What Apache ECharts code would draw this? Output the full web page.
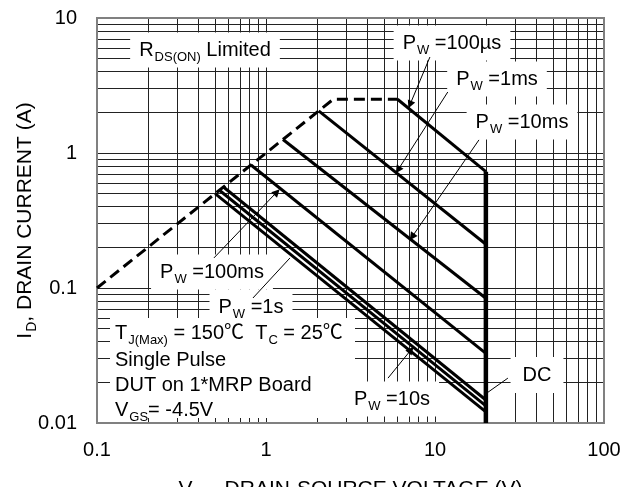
<!DOCTYPE html>
<html>
<head>
<meta charset="utf-8">
<script src="https://cdn.jsdelivr.net/npm/echarts@6/dist/echarts.min.js"></script>
<style>
  html, body { margin: 0; padding: 0; background: #fff; }
  #chart { width: 639px; height: 487px; }
</style>
</head>
<body>
<div id="chart"></div>
<script>
// axis decades and the 1..9 steps used for the log grid
const xDecades = [0.1, 1, 10]
const yDecades = [0.01, 0.1, 1]
const gridSteps = [1, 2, 3, 4, 5, 6, 7, 8, 9]

// safe operating area curves, points are [VDS (V), ID (A)]
const rdsLimit = [[0.1, 0.1], [2.5, 2.5], [6, 2.5]]
const pw100us = [[6, 2.5], [20, 0.727]]
const pw1ms = [[2.05, 2.05], [20, 0.211]]
const pw10ms = [[1.26, 1.26], [20, 0.084]]
const pw100ms = [[0.815, 0.815], [20, 0.0328]]
const pw1s = [[0.56, 0.56], [20, 0.0148]]
const pw10s = [[0.53, 0.53], [20, 0.0134]]
const dc = [[0.5, 0.5], [20, 0.0121]]
const vdsMax = [[20, 0.727], [20, 0.01]]

// label pointers, [from, to]
const arrows = [
  [[9.33, 5.14], [7.11, 2.28]],
  [[11.9, 2.83], [6.04, 0.749]],
  [[18.2, 1.25], [7.31, 0.239]],
  [[0.492, 0.167], [1.16, 0.514]],
  [[5.27, 0.0215], [7.21, 0.0348]]
]
const leaders = [
  [[0.837, 0.0843], [1.387, 0.167]],
  [[27.0, 0.0215], [20.3, 0.0167]]
]

const FONT = "'Liberation Sans', Arial, 'Noto Sans CJK SC', sans-serif"

let gridX = []
xDecades.forEach(d => gridSteps.forEach(s => gridX.push(d * s)))
gridX = gridX.filter(v => v > 0.1001)
let gridY = []
yDecades.forEach(d => gridSteps.forEach(s => gridY.push(d * s)))
gridY = gridY.filter(v => v > 0.01001)

const subG = { fontSize: 13, fontFamily: FONT, fill: '#000', padding: [14, 0, 0, 1] }
const subA = { fontSize: 14, fontFamily: FONT, color: '#000', padding: [14, 0, 0, 1] }

let tag = (x, y, text, extra) => ({
  type: 'text', x, y, z: 3,
  style: Object.assign({
    text, fontSize: 20, fontFamily: FONT, fill: '#000',
    rich: { s: subG },
    backgroundColor: '#fff', padding: [4, 9],
    align: 'center', verticalAlign: 'middle'
  }, extra || {})
})
let note = (y, text) => ({
  type: 'text', x: 115, y, z: 4,
  style: { text, fontSize: 20, fontFamily: FONT, fill: '#000', rich: { s: subG }, align: 'left', verticalAlign: 'middle' }
})

let curve = (data, width, type) => ({
  type: 'line', data, symbol: 'none', z: 10, silent: true,
  lineStyle: { color: '#000', width, type: type || 'solid' }
})

const chart = echarts.init(document.getElementById('chart'))

const option = {
  animation: false,
  backgroundColor: '#fff',
  grid: {
    left: 97, right: 35, top: 18, bottom: 64, outerBoundsMode: 'none', containLabel: false,
    show: true, borderColor: '#808080', borderWidth: 2, z: 8
  },
  xAxis: {
    type: 'log', logBase: 10, min: 0.1, max: 100,
    axisLine: { show: false }, axisTick: { show: false }, splitLine: { show: false },
    axisLabel: { fontSize: 20, fontFamily: FONT, color: '#000', margin: 17, formatter: v => String(+v.toPrecision(2)) },
    name: 'V{s|DS}, DRAIN-SOURCE VOLTAGE (V)', nameLocation: 'middle', nameGap: 52, nameMoveOverlap: false,
    nameTextStyle: { fontSize: 21, fontFamily: FONT, color: '#000', rich: { s: subA } }
  },
  yAxis: {
    type: 'log', logBase: 10, min: 0.01, max: 10,
    axisLine: { show: false }, axisTick: { show: false }, splitLine: { show: false },
    axisLabel: { fontSize: 20, fontFamily: FONT, color: '#000', margin: 20, formatter: v => String(+v.toPrecision(2)) },
    name: 'I{s|D}, DRAIN CURRENT (A)', nameLocation: 'middle', nameGap: 58, nameMoveOverlap: false,
    nameTextStyle: { fontSize: 21, fontFamily: FONT, color: '#000', rich: { s: subA } }
  },
  graphic: { elements: [
    tag(205, 50, 'R{s|DS(ON)} Limited'),
    tag(452, 43, 'P{s|W} =100µs'),
    tag(497, 79, 'P{s|W} =1ms'),
    tag(522, 122, 'P{s|W} =10ms'),
    tag(212, 272, 'P{s|W} =100ms'),
    tag(251, 307, 'P{s|W} =1s'),
    tag(392, 399, 'P{s|W} =10s'),
    tag(537, 375, 'DC', { padding: [8, 12] }),
    { type: 'rect', z: 3, shape: { x: 110, y: 318, width: 245, height: 100 }, style: { fill: '#fff' } },
    note(333, 'T{s|J(Max)} = 150℃  T{s|C} = 25℃'),
    note(360, 'Single Pulse'),
    note(385, 'DUT on 1*MRP Board'),
    note(410, 'V{s|GS}= -4.5V')
  ] },
  series: [
    {
      type: 'line', data: [], z: 1, silent: true,
      markLine: {
        z: 1, silent: true, symbol: 'none', animation: false,
        label: { show: false },
        lineStyle: { color: '#222', width: 1, type: 'solid' },
        data: gridX.map(v => ({ xAxis: v })).concat(gridY.map(v => ({ yAxis: v })))
      }
    },
    curve(rdsLimit, 3, [11, 6]),
    curve(pw100us, 3),
    curve(pw1ms, 3),
    curve(pw10ms, 3),
    curve(pw100ms, 3),
    curve(pw1s, 3),
    curve(pw10s, 3),
    curve(dc, 3),
    curve(vdsMax, 4.5),
    {
      type: 'lines', coordinateSystem: 'cartesian2d', z: 11, silent: true,
      symbol: ['none', 'triangle'], symbolSize: [0, 8],
      lineStyle: { color: '#000', width: 1, opacity: 1 },
      data: arrows.map(c => ({ coords: c }))
    },
    {
      type: 'lines', coordinateSystem: 'cartesian2d', z: 11, silent: true,
      symbol: 'none',
      lineStyle: { color: '#000', width: 1, opacity: 1 },
      data: leaders.map(c => ({ coords: c }))
    }
  ]
}

chart.setOption(option)
</script>
</body>
</html>
